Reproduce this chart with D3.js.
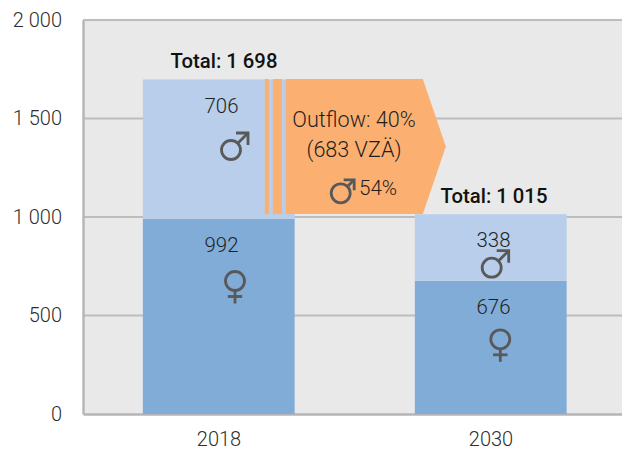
<!DOCTYPE html>
<html><head><meta charset="utf-8">
<style>html,body{margin:0;padding:0;background:#fff}svg{display:block}text{font-family:Roboto,sans-serif}</style>
<script src="https://cdn.jsdelivr.net/npm/d3@7/dist/d3.min.js"></script>
</head><body><svg id="c" width="622" height="453"></svg>
<script>
const years = ["2018","2030"];
const female = [992,676];
const male = [706,338];
const totals = ["Total: 1 698","Total: 1 015"];
const totalValues = [1698,1015];
const yTicks = [0,500,1000,1500,2000];
const outflowValue = 683;
const outflowLabels = ["Outflow: 40%","(683 VZÄ)"];
const outflowMaleShare = "54%";

const svg = d3.select("#c");
const L=83,T=20,B=414,R=627;
const y = d3.scaleLinear().domain([0,2000]).range([B,T]);
const x = d3.scaleBand().domain(years).range([L,R]).paddingInner(0.44).paddingOuter(0.22);
const fmt = v => String(v).replace(/\B(?=(\d{3})+$)/g," ");
const txt="#2e2e2e", icon="#595959";

svg.append("rect").attr("x",L).attr("y",T).attr("width",R-L).attr("height",B-T).attr("fill","#e9e9e9");
svg.append("g").selectAll("line").data(yTicks.slice(1)).join("line")
  .attr("x1",L).attr("x2",R).attr("y1",d=>y(d)).attr("y2",d=>y(d))
  .attr("stroke","#bdbdbd").attr("stroke-width",2);

const gy = svg.append("g").attr("transform",`translate(${L},0)`)
  .call(d3.axisLeft(y).tickValues(yTicks).tickFormat(fmt).tickSize(0).tickPadding(21));
gy.select(".domain").attr("stroke","#b5b5b5").attr("stroke-width",2.4);
gy.selectAll("text").attr("font-size",20).attr("font-weight",300).attr("fill",txt).attr("dy","0.32em");

const gx = svg.append("g").attr("transform",`translate(0,${B})`)
  .call(d3.axisBottom(x).tickSize(0).tickPadding(18));
gx.select(".domain").attr("stroke","#b5b5b5").attr("stroke-width",2.4);
gx.selectAll("text").attr("font-size",20).attr("font-weight",300).attr("fill",txt);

// bars
svg.append("g").selectAll("rect").data(years).join("rect")
  .attr("x",d=>x(d)).attr("width",x.bandwidth()-0.5)
  .attr("y",(d,i)=>y(female[i])).attr("height",(d,i)=>y(0)-y(female[i])).attr("fill","#82acd8");
svg.append("g").selectAll("rect").data(years).join("rect")
  .attr("x",d=>x(d)).attr("width",x.bandwidth()-0.5)
  .attr("y",(d,i)=>y(female[i]+male[i])).attr("height",(d,i)=>y(female[i])-y(female[i]+male[i])).attr("fill","#b8ceea");

// outflow arrow and stripes
const x0 = x(years[0]);
const arrowTop = y(totalValues[0])-0.5, arrowBot = y(totalValues[0]-outflowValue);
const orange="#fbb071";
svg.append("path").attr("fill",orange)
  .attr("d",d3.line()([[x0+143,arrowTop],[x0+280,arrowTop],[x0+303,(arrowTop+arrowBot)/2],[x0+280,arrowBot],[x0+143,arrowBot]])+"Z");
[[122,4],[130,9]].forEach(([o,w])=>svg.append("rect").attr("x",x0+o).attr("y",arrowTop).attr("width",w).attr("height",arrowBot-arrowTop).attr("fill",orange));

// labels
const label=(s,px,py,o={})=>svg.append("text").attr("x",px).attr("y",py).attr("text-anchor",o.a||"middle")
  .attr("font-size",o.fs||20).attr("font-weight",o.w||300).attr("fill",o.c||"#1f1f1f").text(s);
const cx = i => x(years[i])+x.bandwidth()/2;
label(totals[0],cx(0)+5,68,{w:500,c:"#111",fs:20.3});
label(totals[1],cx(1)+3,203,{w:500,c:"#111",fs:20.3});
label(male[0],cx(0)+2.5,113,{fs:20.4});
label(female[0],cx(0)+2.5,252,{fs:20.4});
label(male[1],cx(1)+2.5,247,{fs:20.4});
label(female[1],cx(1)+2.5,314,{fs:20.4});
label(outflowLabels[0],354,127,{fs:21.6});
label(outflowLabels[1],354,156.5,{fs:21.6});
label(outflowMaleShare,378,195,{fs:20.6});

// gender icons
function maleIcon(px,py,arm=17,head=12){
  const g=svg.append("g").attr("fill","none").attr("stroke",icon).attr("stroke-width",2.8);
  g.append("circle").attr("cx",px).attr("cy",py).attr("r",9.5);
  const a=px+6.5,b=py-6.5,tx=px+arm,ty=py-arm;
  g.append("path").attr("d",d3.line()([[a,b],[tx,ty]]));
  g.append("path").attr("d",d3.line()([[tx-head,ty],[tx,ty],[tx,ty+head]]));
}
function femaleIcon(px,py){
  const g=svg.append("g").attr("fill","none").attr("stroke",icon).attr("stroke-width",2.8);
  g.append("circle").attr("cx",px).attr("cy",py).attr("r",9.5);
  g.append("path").attr("d",d3.line()([[px,py+9.5],[px,py+22.5]]));
  g.append("path").attr("d",d3.line()([[px-7.2,py+15.5],[px+7.2,py+15.5]]));
}
maleIcon(231,150);
maleIcon(340.7,193.3,13.5,10.5);
maleIcon(491.7,267.7);
femaleIcon(235,281);
femaleIcon(500.3,339.3);
</script></body></html>
